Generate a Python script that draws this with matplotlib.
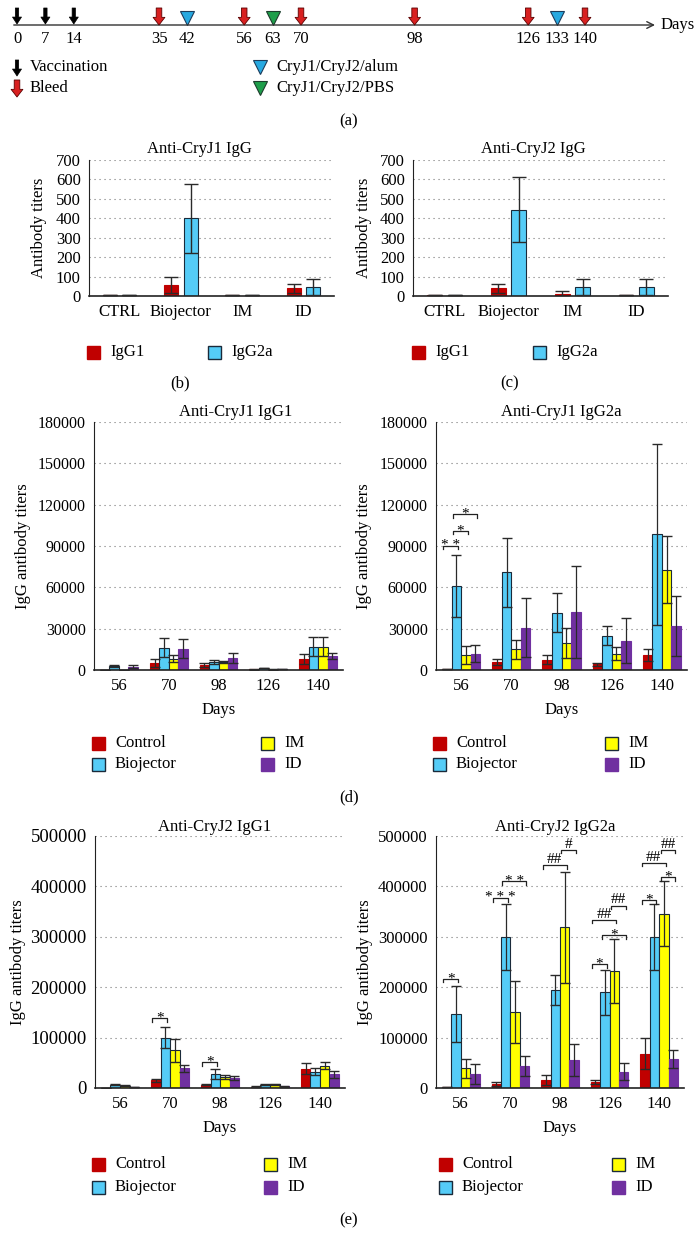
import numpy as np
import matplotlib.pyplot as plt
from matplotlib.patches import Rectangle

plt.rcParams['font.family'] = ['Liberation Serif', 'DejaVu Serif']

W, H = 699, 1251

# ---- (a) immunisation schedule (days)
vaccination_days = [0, 7, 14]
bleed_days = [35, 56, 70, 98, 126, 140]
alum_boost_days = [42, 133]
pbs_boost_days = [63]

# ---- (b), (c) antibody titers by route
routes = ['CTRL', 'Biojector', 'IM', 'ID']
j1_igg1 = [3, 57, 3, 40]
j1_igg1_err = [0, 43, 0, 22]
j1_igg2a = [3, 400, 3, 45]
j1_igg2a_err = [0, 178, 0, 40]
j2_igg1 = [3, 40, 12, 3]
j2_igg1_err = [0, 22, 16, 0]
j2_igg2a = [3, 445, 45, 45]
j2_igg2a_err = [0, 165, 40, 40]

# ---- (d), (e) time course, rows = Control, Biojector, IM, ID
days = [56, 70, 98, 126, 140]
groups = ['Control', 'Biojector', 'IM', 'ID']

j1_g1_mean = [[300, 5100, 3600, 500, 8000],
              [3000, 16300, 5800, 1500, 17000],
              [300, 8300, 5800, 500, 17000],
              [2500, 15500, 8700, 700, 10200]]
j1_g1_err = [[0, 2700, 1700, 300, 3400],
             [500, 7200, 1500, 300, 6800],
             [0, 2600, 1000, 200, 6800],
             [1200, 7000, 3700, 300, 1900]]

j1_g2a_mean = [[500, 5900, 7300, 4000, 11000],
               [60900, 71000, 41600, 24900, 98400],
               [10800, 15000, 19800, 11800, 72700],
               [11800, 30800, 42100, 21400, 32000]]
j1_g2a_err = [[0, 2100, 3300, 1400, 4300],
              [22700, 25000, 14200, 7100, 65600],
              [6600, 7000, 10800, 4900, 24300],
              [6300, 21400, 33700, 16500, 21600]]

j2_g1_mean = [[800, 15000, 6000, 2500, 38000],
              [6000, 100000, 27500, 6000, 32700],
              [4000, 75000, 22000, 7000, 44400],
              [1500, 39000, 20000, 3500, 27500]]
j2_g1_err = [[0, 3000, 1000, 500, 11000],
             [1000, 21000, 9500, 1000, 7000],
             [1000, 23000, 4000, 1500, 6600],
             [500, 7400, 3500, 800, 7000]]

j2_g2a_mean = [[1000, 8000, 16000, 12000, 68000],
               [147000, 300000, 195000, 190000, 300000],
               [39000, 151000, 319000, 232000, 346000],
               [28000, 44400, 55500, 32700, 57500]]
j2_g2a_err = [[0, 4000, 10000, 4000, 30700],
              [55000, 65000, 30000, 45000, 65000],
              [18500, 61000, 110000, 63000, 64000],
              [20000, 20000, 32500, 16000, 18500]]

# significance brackets: (day index, from group, to group, height, label)
j1_g2a_sig = [(0, 0, 1, 90000, '**'), (0, 1, 2, 101000, '*'), (0, 1, 3, 113000, '*')]
j2_g1_sig = [(1, 0, 1, 138000, '*'), (2, 0, 1, 51000, '*')]
j2_g2a_sig = [(0, 0, 1, 217000, '*'),
              (1, 0, 1, 377000, '***'), (1, 1, 3, 410000, '**'),
              (2, 0, 2, 442000, '##'), (2, 2, 3, 473000, '#'),
              (3, 0, 1, 246000, '*'), (3, 0, 2, 334000, '##'),
              (3, 1, 3, 303000, '*'), (3, 2, 3, 362000, '##'),
              (4, 0, 1, 373000, '*'), (4, 0, 2, 447000, '##'),
              (4, 2, 3, 418000, '*'), (4, 2, 3, 473000, '##')]

RED = '#C00000'
BLUE = '#55CCF7'
YELLOW = '#FFFF00'
PURPLE = '#7030A0'
EDGE = '#1a2a3a'
ERR = '#2a2a2a'
group_face = [RED, BLUE, YELLOW, PURPLE]
group_edge = [RED, EDGE, EDGE, PURPLE]

fig = plt.figure(figsize=(W / 100, H / 100), dpi=100)
over = fig.add_axes([0, 0, 1, 1])
over.set_xlim(0, W)
over.set_ylim(H, 0)
over.axis('off')


def px_axes(l, t, r, b):
    return fig.add_axes([l / W, 1 - b / H, (r - l) / W, (b - t) / H])


def style_axes(ax, ymax, step, ncat, fs=11.5):
    ax.set_ylim(0, ymax)
    ax.set_yticks(np.arange(0, ymax + 1, step))
    ax.set_xlim(-0.5, ncat - 0.5)
    ax.grid(axis='y', linestyle=(0, (1, 3.5)), color='#777777', lw=0.8)
    ax.set_axisbelow(True)
    for s in ['top', 'right']:
        ax.spines[s].set_visible(False)
    ax.spines['left'].set_color('#222222')
    ax.spines['bottom'].set_color('#222222')
    ax.spines['bottom'].set_linewidth(1.2)
    ax.tick_params(axis='y', length=0, labelsize=fs, pad=6)
    ax.tick_params(axis='x', length=0, labelsize=12, pad=6)


def legend_item(x, y, color, edge, label):
    over.add_patch(Rectangle((x, y - 6.5), 13, 13, fc=color, ec=edge, lw=1))
    over.text(x + 23, y, label, va='center', ha='left', fontsize=12)


def route_panel(rect, title, title_xy, g1, g1e, g2, g2e, ylab_x):
    ax = px_axes(*rect)
    x = np.arange(len(routes))
    ax.bar(x - 0.16, g1, 0.23, color=RED, edgecolor=RED, lw=0.8, zorder=2)
    ax.bar(x + 0.16, g2, 0.23, color=BLUE, edgecolor=EDGE, lw=0.8, zorder=2)
    ax.errorbar(x - 0.16, g1, yerr=g1e, fmt='none', ecolor=ERR, elinewidth=1, capsize=5, zorder=3)
    ax.errorbar(x + 0.16, g2, yerr=g2e, fmt='none', ecolor=ERR, elinewidth=1, capsize=5, zorder=3)
    style_axes(ax, 700, 100, len(routes), fs=12)
    ax.set_xticks(x)
    ax.set_xticklabels(routes)
    ax.set_ylabel('Antibody titers', fontsize=12)
    ax.yaxis.set_label_coords(ylab_x, 0.5)
    over.text(title_xy[0], title_xy[1], title, ha='center', va='center', fontsize=12)
    return ax


def time_panel(rect, title, title_xy, means, errs, ymax, step, sig, ylab_x, fs=11.5):
    ax = px_axes(*rect)
    x = np.arange(len(days))
    w = 0.19
    for i in range(len(groups)):
        pos = x + (i - 1.5) * w
        ax.bar(pos, means[i], w, color=group_face[i], edgecolor=group_edge[i], lw=0.8, zorder=2)
        ax.errorbar(pos, means[i], yerr=errs[i], fmt='none', ecolor=ERR,
                    elinewidth=0.9, capsize=3.3, zorder=3)
    drop = ymax * 0.014
    for gi, a, b, y, label in sig:
        x0 = gi + (a - 1.5) * w - 0.35 * w
        x1 = gi + (b - 1.5) * w + 0.2 * w
        ax.plot([x0, x0, x1, x1], [y - drop, y, y, y - drop], color='#222222', lw=0.9, zorder=4)
        if '*' in label:
            shown, off = ' '.join(label), -2.5
        else:
            shown, off = label, 1.5
        ax.annotate(shown, ((x0 + x1) / 2, y), xytext=(0, off), textcoords='offset points',
                    ha='center', va='baseline', fontsize=11, annotation_clip=False)
    style_axes(ax, ymax, step, len(days), fs)
    ax.set_xticks(x)
    ax.set_xticklabels([str(d) for d in days])
    ax.set_xlabel('Days', fontsize=12)
    ax.xaxis.set_label_coords(0.5, -0.128)
    ax.set_ylabel('IgG antibody titers', fontsize=12)
    ax.yaxis.set_label_coords(ylab_x, 0.5)
    over.text(title_xy[0], title_xy[1], title, ha='center', va='center', fontsize=12)
    return ax


# ---- (a) timeline
px0, px_day = 17, (585 - 17) / 140
ax_a = fig.add_axes([0, 1 - 130 / H, 1, 130 / H])
ax_a.set_xlim(-px0 / px_day, (W - px0) / px_day)
ax_a.set_ylim(130, 0)
ax_a.axis('off')
ax_a.annotate('', xy=((655 - px0) / px_day, 25), xytext=(-0.8, 25),
              arrowprops=dict(arrowstyle='->', color='#333333', lw=1, mutation_scale=12,
                              shrinkA=0, shrinkB=0))
for d in vaccination_days:
    ax_a.annotate('', xy=(d, 24), xytext=(d, 8),
                  arrowprops=dict(arrowstyle='simple,head_width=0.65,head_length=0.5,tail_width=0.24',
                                  fc='black', ec='black', lw=0.5, mutation_scale=10,
                                  shrinkA=0, shrinkB=0))
for d in bleed_days:
    ax_a.annotate('', xy=(d, 25), xytext=(d, 8),
                  arrowprops=dict(arrowstyle='simple,head_width=0.85,head_length=0.55,tail_width=0.4',
                                  fc='#D82020', ec='#5a0000', lw=0.6, mutation_scale=10,
                                  shrinkA=0, shrinkB=0))
ax_a.plot(alum_boost_days, [18] * len(alum_boost_days), 'v', ms=10, mfc='#27A9E1', mec='#1d3d5c', mew=0.8)
ax_a.plot(pbs_boost_days, [18] * len(pbs_boost_days), 'v', ms=10, mfc='#1E9E4A', mec='#1d3d2c', mew=0.8)
for d in sorted(vaccination_days + bleed_days + alum_boost_days + pbs_boost_days):
    ax_a.text(d, 39, str(d), ha='center', va='center', fontsize=12)
ax_a.text((661 - px0) / px_day, 25, 'Days', ha='left', va='center', fontsize=12)

# legend of (a)
over.annotate('', xy=(17, 76), xytext=(17, 60),
              arrowprops=dict(arrowstyle='simple,head_width=0.65,head_length=0.5,tail_width=0.24',
                              fc='black', ec='black', lw=0.5, mutation_scale=10, shrinkA=0, shrinkB=0))
over.annotate('', xy=(17, 97), xytext=(17, 80),
              arrowprops=dict(arrowstyle='simple,head_width=0.85,head_length=0.55,tail_width=0.4',
                              fc='#D82020', ec='#5a0000', lw=0.6, mutation_scale=10, shrinkA=0, shrinkB=0))
over.text(30, 67, 'Vaccination', va='center', fontsize=12)
over.text(30, 88, 'Bleed', va='center', fontsize=12)
over.plot([260], [67], 'v', ms=10, mfc='#27A9E1', mec='#1d3d5c', mew=0.8)
over.plot([260], [88], 'v', ms=10, mfc='#1E9E4A', mec='#1d3d2c', mew=0.8)
over.text(276, 67, 'CryJ1/CryJ2/alum', va='center', fontsize=12)
over.text(276, 88, 'CryJ1/CryJ2/PBS', va='center', fontsize=12)
over.text(349, 121, '(a)', ha='center', va='center', fontsize=12)

# ---- (b), (c)
route_panel((89, 160, 334, 296), 'Anti-CryJ1 IgG', (199, 149),
            j1_igg1, j1_igg1_err, j1_igg2a, j1_igg2a_err, -0.171)
route_panel((413, 160, 668, 296), 'Anti-CryJ2 IgG', (533, 149),
            j2_igg1, j2_igg1_err, j2_igg2a, j2_igg2a_err, -0.161)
for x0 in (87, 412):
    legend_item(x0, 352, RED, RED, 'IgG1')
for x0 in (208, 533):
    legend_item(x0, 352, BLUE, EDGE, 'IgG2a')
over.text(180, 383, '(b)', ha='center', va='center', fontsize=12)
over.text(510, 383, '(c)', ha='center', va='center', fontsize=12)

# ---- (d)
time_panel((94, 422, 343, 670), 'Anti-CryJ1 IgG1', (236, 412),
           j1_g1_mean, j1_g1_err, 180000, 30000, [], -0.253)
time_panel((436, 422, 687, 670), 'Anti-CryJ1 IgG2a', (561, 412),
           j1_g2a_mean, j1_g2a_err, 180000, 30000, j1_g2a_sig, -0.255)

# ---- (e)
time_panel((95, 836, 345, 1088), 'Anti-CryJ2 IgG1', (215, 827),
           j2_g1_mean, j2_g1_err, 500000, 100000, j2_g1_sig, -0.276, fs=13.5)
time_panel((436, 836, 684, 1088), 'Anti-CryJ2 IgG2a', (555, 827),
           j2_g2a_mean, j2_g2a_err, 500000, 100000, j2_g2a_sig, -0.254, fs=12)

for (lx, tx), ys in [((92, 261), (743, 764)), ((433, 605), (743, 764)),
                     ((92, 264), (1164, 1187)), ((439, 612), (1164, 1187))]:
    legend_item(lx, ys[0], RED, RED, groups[0])
    legend_item(lx, ys[1], BLUE, EDGE, groups[1])
    legend_item(tx, ys[0], YELLOW, EDGE, groups[2])
    legend_item(tx, ys[1], PURPLE, PURPLE, groups[3])
over.text(349, 797, '(d)', ha='center', va='center', fontsize=12)
over.text(349, 1220, '(e)', ha='center', va='center', fontsize=12)

fig.savefig('out.png', dpi=100)
